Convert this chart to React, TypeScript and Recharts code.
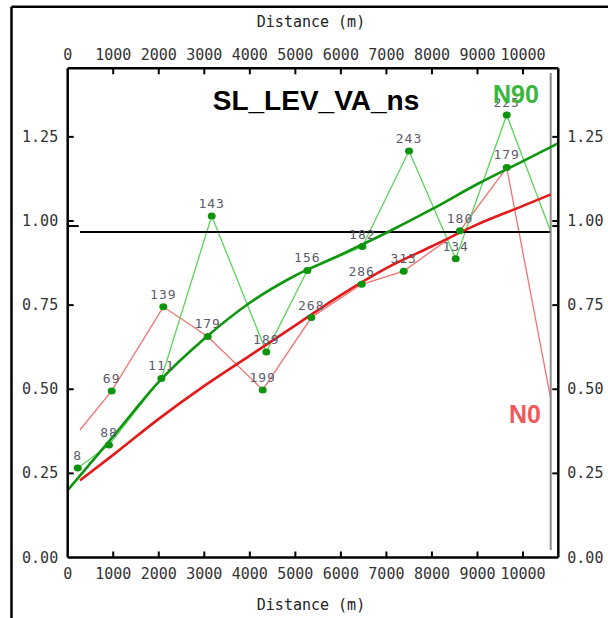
import React from 'react';
import {
  ComposedChart, Line, XAxis, YAxis, ReferenceLine, LabelList,
} from 'recharts';

// axis ticks
const distanceTicks = [0, 1000, 2000, 3000, 4000, 5000, 6000, 7000, 8000, 9000, 10000];
const valueTicks = [0, 0.25, 0.5, 0.75, 0.985, 1, 1.25];
const labelledValues = [0, 0.25, 0.5, 0.75, 1, 1.25];

// N0 profile (thin red) with point counts
const n0Distance = [270, 966, 2100, 3075, 4283, 5350, 6457, 7380, 8616, 9642, 10608];
const n0Value = [0.379, 0.495, 0.745, 0.657, 0.498, 0.713, 0.812, 0.851, 0.971, 1.159, 0.472];
const n0Count = ['', '69', '139', '179', '199', '268', '286', '313', '180', '179', ''];

// N90 profile (thin green) with point counts
const n90Distance = [220, 907, 2056, 3163, 4362, 5263, 6471, 7496, 8522, 9642, 10608];
const n90Value = [0.266, 0.334, 0.532, 1.015, 0.611, 0.853, 0.924, 1.208, 0.888, 1.315, 0.969];
const n90Count = ['8', '88', '111', '143', '189', '156', '182', '243', '134', '225', ''];

// fitted trends
const n90TrendDistance = [0, 1000, 2000, 3000, 4000, 5000, 6000, 7000, 8000, 9000, 10000, 10775];
const n90TrendValue = [0.2, 0.36, 0.522, 0.65, 0.757, 0.838, 0.9, 0.965, 1.035, 1.11, 1.178, 1.231];
const n0TrendDistance = [270, 1000, 2000, 3000, 4000, 5000, 6000, 7000, 8000, 9000, 10000, 10608];
const n0TrendValue = [0.229, 0.305, 0.412, 0.51, 0.6, 0.69, 0.78, 0.86, 0.925, 0.99, 1.045, 1.079];

const sillValue = 0.967;
const sillFrom = 270;
const lagEnd = 10608;

const toRows = (xs: number[], ys: number[], labels?: string[]) =>
  xs.map((x, i) => ({ x, y: ys[i], lbl: labels ? labels[i] : '' }));

const n0Rows = toRows(n0Distance, n0Value, n0Count);
const n90Rows = toRows(n90Distance, n90Value, n90Count);
const n90Trend = toRows(n90TrendDistance, n90TrendValue);
const n0Trend = toRows(n0TrendDistance, n0TrendValue);

const MONO = '"DejaVu Sans Mono", monospace';
const TICK_COLOR = '#333';

function BottomTick(p: any) {
  const { x, y, payload } = p;
  return (
    <g>
      {payload.value !== 0 && <line x1={x} x2={x} y1={y} y2={y - 6} stroke="#000" strokeWidth={2} />}
      <text x={x} y={y + 21.5} textAnchor="middle" fontFamily={MONO} fontSize={15} fill={TICK_COLOR}>
        {payload.value}
      </text>
    </g>
  );
}

function TopTick(p: any) {
  const { x, y, payload } = p;
  return (
    <g>
      {payload.value !== 0 && <line x1={x} x2={x} y1={y} y2={y + 6} stroke="#000" strokeWidth={2} />}
      <text x={x} y={y - 8.5} textAnchor="middle" fontFamily={MONO} fontSize={15} fill={TICK_COLOR}>
        {payload.value}
      </text>
    </g>
  );
}

function LeftTick(p: any) {
  const { x, y, payload } = p;
  const labelled = labelledValues.includes(payload.value);
  return (
    <g>
      {payload.value !== 0 && (
        <line x1={x} x2={x + (labelled ? 6 : 11)} y1={y} y2={y} stroke="#000" strokeWidth={2} />
      )}
      {labelled && (
        <text x={x - 9.5} y={y + 5} textAnchor="end" fontFamily={MONO} fontSize={15} fill={TICK_COLOR}>
          {payload.value.toFixed(2)}
        </text>
      )}
    </g>
  );
}

function RightTick(p: any) {
  const { x, y, payload } = p;
  const labelled = labelledValues.includes(payload.value);
  return (
    <g>
      {payload.value !== 0 && <line x1={x} x2={x - 6} y1={y} y2={y} stroke="#000" strokeWidth={2} />}
      {labelled && (
        <text x={x + 9} y={y + 5} textAnchor="start" fontFamily={MONO} fontSize={15} fill={TICK_COLOR}>
          {payload.value.toFixed(2)}
        </text>
      )}
    </g>
  );
}

function renderDot(p: any) {
  if (!p.payload || !p.payload.lbl) return <g key={`e${p.index}`} />;
  return <ellipse key={`d${p.index}`} cx={p.cx} cy={p.cy} rx={4} ry={3.5} fill="#0e930e" />;
}

function renderCount(p: any) {
  if (!p.value) return null;
  const x = p.x ?? p.viewBox?.x;
  const y = p.y ?? p.viewBox?.y;
  return (
    <text
      key={`l${p.index}`}
      x={x}
      y={y - 8}
      textAnchor="middle"
      fontFamily={MONO}
      fontSize={13}
      letterSpacing={1}
      fill="#5b5b6d"
    >
      {p.value}
    </text>
  );
}

export default function App() {
  const axisLine = { stroke: '#000', strokeWidth: 2.5 };
  return (
    <div style={{ position: 'absolute', left: 0, top: 0, width: 608, height: 618, background: '#fff' }}>
      <ComposedChart
        width={608}
        height={618}
        margin={{ top: 38.3, right: 4.7, bottom: 30.5, left: 17.7 }}
      >
        <XAxis
          xAxisId="b"
          dataKey="x"
          type="number"
          orientation="bottom"
          domain={[0, 10775]}
          allowDataOverflow
          ticks={distanceTicks}
          interval={0}
          height={30}
          tickSize={0}
          tickMargin={0}
          axisLine={axisLine}
          tickLine={false}
          tick={(p: any) => <BottomTick {...p} />}
        />
        <XAxis
          xAxisId="t"
          dataKey="x"
          type="number"
          orientation="top"
          domain={[0, 10775]}
          allowDataOverflow
          ticks={distanceTicks}
          interval={0}
          height={30}
          tickSize={0}
          tickMargin={0}
          axisLine={axisLine}
          tickLine={false}
          tick={(p: any) => <TopTick {...p} />}
        />
        <YAxis
          yAxisId="l"
          type="number"
          orientation="left"
          domain={[0, 1.4538]}
          allowDataOverflow
          ticks={valueTicks}
          interval={0}
          width={50}
          tickSize={0}
          tickMargin={0}
          axisLine={axisLine}
          tickLine={false}
          tick={(p: any) => <LeftTick {...p} />}
        />
        <YAxis
          yAxisId="r"
          type="number"
          orientation="right"
          domain={[0, 1.4538]}
          allowDataOverflow
          ticks={valueTicks}
          interval={0}
          width={45}
          tickSize={0}
          tickMargin={0}
          axisLine={axisLine}
          tickLine={false}
          tick={(p: any) => <RightTick {...p} />}
        />

        <Line
          xAxisId="b" yAxisId="l" data={n0Rows} dataKey="y" type="linear"
          stroke="#f47272" strokeWidth={1.3} dot={false} activeDot={false} isAnimationActive={false}
        />
        <Line
          xAxisId="b" yAxisId="l" data={n90Rows} dataKey="y" type="linear"
          stroke="#5ad65a" strokeWidth={1.3} dot={false} activeDot={false} isAnimationActive={false}
        />

        <ReferenceLine
          xAxisId="b" yAxisId="l"
          segment={[{ x: sillFrom, y: sillValue }, { x: lagEnd, y: sillValue }]}
          stroke="#000" strokeWidth={2} ifOverflow="visible"
        />
        <ReferenceLine
          xAxisId="b" yAxisId="l"
          segment={[{ x: lagEnd, y: 0.022 }, { x: lagEnd, y: 1.44 }]}
          stroke="#8c8c8c" strokeWidth={2} ifOverflow="visible"
        />

        <Line
          xAxisId="b" yAxisId="l" data={n90Trend} dataKey="y" type="monotone"
          stroke="#0f950f" strokeWidth={2.6} dot={false} activeDot={false} isAnimationActive={false}
        />
        <Line
          xAxisId="b" yAxisId="l" data={n0Trend} dataKey="y" type="monotone"
          stroke="#e21a1a" strokeWidth={2.6} dot={false} activeDot={false} isAnimationActive={false}
        />

        <Line
          xAxisId="b" yAxisId="l" data={n0Rows} dataKey="y" stroke="none"
          dot={renderDot} activeDot={false} isAnimationActive={false}
        >
          <LabelList dataKey="lbl" content={renderCount} />
        </Line>
        <Line
          xAxisId="b" yAxisId="l" data={n90Rows} dataKey="y" stroke="none"
          dot={renderDot} activeDot={false} isAnimationActive={false}
        >
          <LabelList dataKey="lbl" content={renderCount} />
        </Line>
      </ComposedChart>

      <svg
        width={608}
        height={618}
        style={{ position: 'absolute', left: 0, top: 0, pointerEvents: 'none' }}
      >
        <line x1={11.5} x2={11.5} y1={6.7} y2={618} stroke="#000" strokeWidth={2.5} />
        <line x1={11.5} x2={608} y1={6.7} y2={6.7} stroke="#000" strokeWidth={2.5} />
        <text x={311} y={26.5} textAnchor="middle" fontFamily={MONO} fontSize={15} fill="#222">
          Distance (m)
        </text>
        <text x={311} y={610} textAnchor="middle" fontFamily={MONO} fontSize={15} fill="#222">
          Distance (m)
        </text>
        <text
          x={316} y={110} textAnchor="middle"
          fontFamily='"Liberation Sans", Arial, sans-serif' fontWeight="bold" fontSize={28} fill="#000"
        >
          SL_LEV_VA_ns
        </text>
        <text
          x={493} y={103}
          fontFamily='"Liberation Sans", Arial, sans-serif' fontWeight="bold" fontSize={25} fill="#3ab63a"
        >
          N90
        </text>
        <text
          x={509} y={423}
          fontFamily='"Liberation Sans", Arial, sans-serif' fontWeight="bold" fontSize={25} fill="#f05a5a"
        >
          N0
        </text>
      </svg>
    </div>
  );
}
